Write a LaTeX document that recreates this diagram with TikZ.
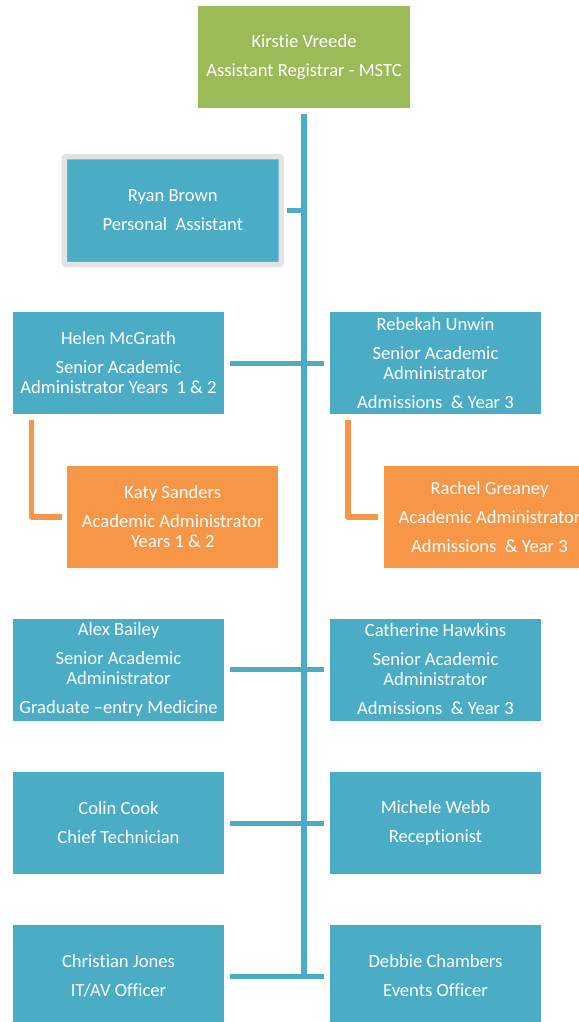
\documentclass[tikz,border=0pt]{standalone}
\usepackage{fontspec}
\setmainfont{Carlito}[Ligatures={TeX,NoCommon}]
\usepackage{tikz}
\definecolor{boxblue}{HTML}{4BACC6}
\definecolor{boxgreen}{HTML}{9BBB59}
\definecolor{boxorange}{HTML}{F79646}
\definecolor{framegrey}{HTML}{E4E4E4}

\begin{document}
\begin{tikzpicture}[x=1pt,y=1pt,
  box/.style={fill=boxblue,text=white,align=center,inner sep=0pt,minimum width=211pt,minimum height=102pt,font=\fontsize{18.6}{20}\selectfont},
  topbox/.style={box,fill=boxgreen,minimum width=212pt},
  framebox/.style={box,draw=framegrey,line width=5.5pt,rounded corners=1.5pt,minimum width=217pt,minimum height=108pt},
  subbox/.style={box,fill=boxorange},
  trunk/.style={boxblue,line width=6pt},
  branch/.style={boxblue,line width=5pt},
  subline/.style={boxorange,line width=5.5pt,line join=round}]
\useasboundingbox (0,0) rectangle (578,-1022);
% registrar
\node[topbox] (kv) at (304,-57) {Kirstie Vreede\\[9pt]Assistant Registrar - MSTC};
% assistant
\node[framebox] (rb) at (172.75,-210.5) {Ryan Brown\\[9pt]Personal\ \ Assistant};
% senior administrators
\node[box] (hm) at (118.5,-363) {Helen McGrath\\[9pt]Senior Academic\\Administrator Years\ \ 1 \& 2};
\node[box] (ru) at (435.5,-363) {Rebekah Unwin\\[9pt]Senior Academic\\Administrator\\[9pt]Admissions\ \ \& Year 3};
\node[box] (ab) at (118.5,-669.5) {Alex Bailey\\[9pt]Senior Academic\\Administrator\\[9pt]Graduate –entry Medicine};
\node[box] (ch) at (435.5,-669.5) {Catherine Hawkins\\[9pt]Senior Academic\\Administrator\\[9pt]Admissions\ \ \& Year 3};
% academic administrators
\node[subbox] (ks) at (172.75,-517) {Katy Sanders\\[9pt]Academic Administrator\\Years 1 \& 2};
\node[subbox] (rg) at (489.5,-517) {Rachel Greaney\\[9pt]Academic Administrator\\[9pt]Admissions\ \ \& Year 3};
% other staff
\node[box] (cc) at (118.5,-823) {Colin Cook\\[9pt]Chief Technician};
\node[box] (mw) at (435.5,-823) {Michele Webb\\[9pt]Receptionist};
\node[box] (cj) at (118.5,-976) {Christian Jones\\[9pt]IT/AV Officer};
\node[box] (dc) at (435.5,-976) {Debbie Chambers\\[9pt]Events Officer};
% main line
\coordinate (trunkend) at (304,-978.5);
\draw[trunk] ([yshift=-6pt]kv.south) to (trunkend);
\draw[branch,shorten <=2.75pt] (rb.east) to (rb.east -| trunkend);
% cross lines
\draw[branch,shorten <=6pt,shorten >=6pt] (hm) to (ru);
\draw[branch,shorten <=6pt,shorten >=6pt] (ab) to (ch);
\draw[branch,shorten <=6pt,shorten >=6pt] (cc) to (mw);
\draw[branch,shorten <=6pt,shorten >=6pt] (cj) to (dc);
% orange lines
\draw[subline] ([xshift=18.5pt,yshift=-6pt]hm.south west) |- ([xshift=-5pt]ks.west);
\draw[subline] ([xshift=18pt,yshift=-6pt]ru.south west) |- ([xshift=-5.5pt]rg.west);
\end{tikzpicture}
\end{document}
